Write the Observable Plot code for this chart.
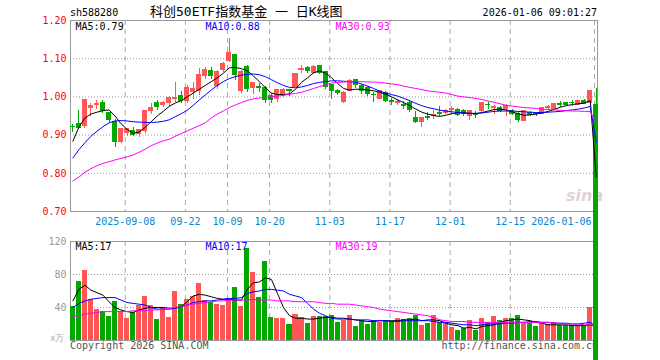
<!DOCTYPE html>
<html><head><meta charset="utf-8">
<script src="https://cdn.jsdelivr.net/npm/d3@7"></script>
<script src="https://cdn.jsdelivr.net/npm/@observablehq/plot@0.6"></script>
<style>
body{margin:0;background:#fff;}
#c{position:relative;width:660px;height:360px;overflow:hidden;background:#fff;font-family:"DejaVu Sans Mono",monospace;}
.t{position:absolute;white-space:pre;line-height:1;}
#c svg{position:absolute;left:0;overflow:visible;}
</style></head><body><div id="c"></div>
<script>
// ---- data ----
const code = "sh588280";
const title = "科创50ETF指数基金 一 日K线图";
const stamp = "2026-01-06 09:01:27";
const opens = [0.921,0.930,0.923,0.970,0.979,0.984,0.958,0.933,0.883,0.905,
0.911,0.903,0.910,0.962,0.983,0.980,0.983,0.994,1.003,0.990,
1.013,1.016,1.055,1.068,1.028,1.070,1.094,1.109,1.015,1.078,
1.023,1.025,1.022,1.003,0.994,1.007,1.017,1.026,1.071,1.076,
1.062,1.080,1.064,1.030,1.016,0.987,1.016,1.043,1.029,1.022,
1.005,0.994,1.009,0.990,0.984,0.979,0.985,0.946,0.933,0.947,
0.951,0.957,0.959,0.967,0.966,0.963,0.950,0.953,0.962,0.979,
0.971,0.972,0.968,0.963,0.956,0.937,0.959,0.955,0.956,0.971,
0.969,0.981,0.983,0.984,0.978,0.988,0.984,0.980];
const highs = [0.929,0.965,0.991,0.984,0.991,0.990,0.960,0.940,0.918,0.917,
0.920,0.915,0.965,0.984,0.991,0.989,1.002,1.039,1.013,1.030,
1.037,1.074,1.076,1.077,1.068,1.091,1.152,1.110,1.068,1.081,
1.038,1.036,1.027,1.008,1.020,1.022,1.020,1.062,1.081,1.080,
1.082,1.083,1.066,1.032,1.020,1.013,1.045,1.046,1.033,1.027,
1.012,1.018,1.015,0.995,0.992,0.988,0.990,0.961,0.946,0.958,
0.964,0.976,0.966,0.975,0.970,0.966,0.963,0.963,0.985,0.985,
0.978,0.975,0.981,0.966,0.958,0.963,0.962,0.959,0.972,0.977,
0.982,0.987,0.985,0.991,0.991,0.994,1.018,1.022];
const lows = [0.908,0.915,0.918,0.949,0.966,0.956,0.932,0.868,0.879,0.897,
0.896,0.893,0.905,0.953,0.965,0.972,0.976,0.985,0.983,0.983,
0.994,1.003,1.046,1.046,1.020,1.065,1.090,1.042,1.008,1.012,
1.005,1.012,0.983,0.983,0.985,0.998,1.002,1.024,1.060,1.062,
1.058,1.058,1.020,0.994,1.003,0.984,1.013,1.022,1.005,1.002,
0.985,0.992,0.985,0.977,0.977,0.968,0.959,0.931,0.920,0.938,
0.940,0.948,0.953,0.955,0.950,0.950,0.937,0.943,0.960,0.968,
0.955,0.958,0.950,0.952,0.933,0.935,0.949,0.950,0.955,0.966,
0.968,0.973,0.976,0.976,0.977,0.979,0.983,0.030];
const closes = [0.920,0.918,0.991,0.975,0.982,0.962,0.939,0.883,0.917,0.915,
0.900,0.913,0.962,0.971,0.974,0.984,0.996,0.998,0.990,1.022,
1.020,1.057,1.070,1.055,1.065,1.087,1.115,1.058,1.065,1.021,
1.036,1.023,0.993,0.993,1.018,1.019,1.015,1.060,1.074,1.068,
1.078,1.063,1.027,1.016,1.009,1.011,1.042,1.031,1.016,1.007,
1.004,1.016,0.988,0.986,0.986,0.977,0.966,0.934,0.944,0.946,
0.953,0.955,0.963,0.968,0.953,0.955,0.962,0.952,0.983,0.978,
0.973,0.963,0.976,0.956,0.940,0.962,0.952,0.954,0.970,0.973,
0.981,0.980,0.978,0.983,0.990,0.981,1.016,0.030];
const volumes = [41.6,71.6,85,50,38,35.6,29.6,47.6,35.6,27,
34,42,53.5,42.5,26,39.5,28.4,59.5,44,50,
53.5,69.5,48,46,44,42,51,64.4,41.6,111,
82.2,52,95.6,28.4,27,27,19.8,31.8,28.4,21,
29.6,29.6,29.6,30.2,22,24.4,30,17,24,19.6,
24,22,24,23,27,25.6,27,30,18,21,
30,22,21,16,12.4,15,24.4,12.4,27,22,
29,24.4,27,27,30,21,21,17,22,19.6,
22,18.4,18.4,18.4,18.4,18.4,40,3];
const ma5 = [0.884,0.921,0.945,0.955,0.960,0.964,0.966,0.950,0.930,0.915,
0.905,0.908,0.920,0.935,0.950,0.962,0.975,0.984,0.990,1.000,
1.010,1.020,1.030,1.040,1.050,1.062,1.076,1.077,1.074,1.068,
1.055,1.040,1.024,1.010,1.006,1.006,1.008,1.020,1.038,1.050,
1.063,1.068,1.062,1.050,1.035,1.022,1.018,1.020,1.020,1.018,
1.016,1.012,1.007,1.000,0.992,0.985,0.977,0.968,0.960,0.955,
0.951,0.949,0.952,0.956,0.959,0.958,0.957,0.956,0.959,0.963,
0.967,0.968,0.966,0.961,0.956,0.952,0.953,0.955,0.958,0.962,
0.967,0.973,0.977,0.980,0.982,0.984,0.990,0.790];
const ma10 = [0.840,0.862,0.880,0.897,0.910,0.922,0.932,0.937,0.938,0.937,
0.935,0.934,0.933,0.933,0.934,0.936,0.940,0.948,0.956,0.965,
0.978,0.992,1.005,1.018,1.030,1.040,1.048,1.053,1.057,1.059,
1.060,1.058,1.053,1.045,1.037,1.030,1.025,1.024,1.026,1.030,
1.035,1.038,1.040,1.042,1.042,1.041,1.040,1.038,1.034,1.028,
1.022,1.015,1.010,1.006,1.002,0.996,0.990,0.983,0.977,0.972,
0.969,0.965,0.963,0.961,0.959,0.958,0.957,0.957,0.958,0.960,
0.962,0.963,0.963,0.963,0.962,0.961,0.960,0.959,0.959,0.960,
0.961,0.962,0.964,0.966,0.968,0.971,0.975,0.880];
const ma30 = [0.780,0.790,0.803,0.812,0.820,0.826,0.830,0.835,0.839,0.843,
0.848,0.855,0.863,0.872,0.879,0.885,0.889,0.897,0.904,0.911,
0.918,0.925,0.932,0.945,0.955,0.963,0.972,0.979,0.985,0.991,
0.995,0.997,0.999,1.000,1.002,1.004,1.007,1.009,1.012,1.017,
1.022,1.027,1.032,1.036,1.038,1.039,1.040,1.040,1.040,1.039,
1.039,1.038,1.036,1.034,1.032,1.028,1.025,1.022,1.019,1.016,
1.014,1.012,1.010,1.006,1.002,1.000,0.998,0.996,0.993,0.989,
0.986,0.982,0.978,0.976,0.974,0.972,0.971,0.970,0.968,0.967,
0.966,0.965,0.964,0.963,0.963,0.962,0.962,0.930];
const vma5 = [48,62,67,61,58,55,47,40,37,35,
34,37,39,40,40,40,39,39,41,47,
54,56,55,53,51,50,50,49,49,62,
70,71,76,74,57,40,30,27,27,26,
26,27,28,28,27,27,26,25,24,23,
23,24,24,24,24,25,25,26,24,25,
25,24,21,19,18,15,16,14,17,18,
19,22,24,25,26,25,24,22,21,19,
19,19,19,18,18,18,19,17];
const vma10 = [40,45,48,50,51,52,52,52,49,46,
45,44,43,40,38,38,38,39,41,43,
46,47,48,48,49,50,51,51,52,57,
59,60,62,62,61,60,56,54,52,45,
38,33,30,27,26,26,26,25,25,25,
24,24,24,23,23,24,24,24,24,24,
23,22,22,21,20,19,19,18,19,20,
20,20,21,21,22,22,23,23,22,22,
21,21,21,20,20,21,22,17];
const vma30 = [29,30,32,33,34,35,35,35,35,35,
36,36,36,37,37,38,39,40,41,43,
44,45,46,47,48,48,49,49,49,49,
50,49,49,49,48,48,48,47,47,47,
47,46,45,45,44,44,44,43,42,41,
40,38,37,36,35,34,33,32,31,30,
28,25,24,23,23,23,22,22,22,22,
22,22,22,22,22,22,22,22,22,22,
21,21,20,20,20,19,19,19];
const tickIndex = [9,19,26,33,43,53,63,73,87];
const tickLabels = ["2025-09-08","09-22","10-09","10-20","11-03","11-17","12-01","12-15","2026-01-06"];
const priceTicks = [0.7,0.8,0.9,1.0,1.1,1.2];
const priceGrid = [0.8,0.9,1.0,1.1];
const volTicks = [40,80,120];
const volGrid = [40,80];

// ---- styles ----
const RED = "#ff5555", GREEN = "#00a800";
const lineColors = ["#000000","#0000ff","#ff00ff"];
const legendDx = [5,135,265];
const FONT = "DejaVu Sans Mono, monospace";
const xDomain = [-0.4, 87.2];
const gridOff = 0.3;

const rows = opens.map((o,i)=>({i, o, h:highs[i], l:lows[i], c:closes[i], v:volumes[i], up: closes[i] >= o}));
const ups = rows.filter(d=>d.up), downs = rows.filter(d=>!d.up);

function candleMarks(set, color){
  return [
    Plot.ruleX(set, {x:"i", y1:"l", y2:"h", stroke:color, strokeWidth:1, shapeRendering:"crispEdges"}),
    Plot.rect(set, {x1:d=>d.i-0.42, x2:d=>d.i+0.42, y1:"o", y2:"c", fill:color, insetTop:-0.5, insetBottom:-0.5, shapeRendering:"crispEdges"})
  ];
}
function volMarks(set, color){
  return Plot.rect(set, {x1:d=>d.i-0.42, x2:d=>d.i+0.42, y1:0, y2:"v", fill:color, shapeRendering:"crispEdges"});
}
function legendMarks(labels, dy){
  return labels.map((s,k)=>Plot.text([s], {text:d=>d, frameAnchor:"top-left", dx:legendDx[k], dy, fill:lineColors[k], textAnchor:"start", lineAnchor:"middle", fontSize:10}));
}
function maLines(series){
  return series.map((s,k)=>Plot.line(s, {x:(d,i)=>i, y:d=>d, stroke:lineColors[k], strokeWidth:1}));
}

const last = rows.length - 1;
const priceLegend = [`MA5:${ma5[last].toFixed(2)}`, `MA10:${ma10[last].toFixed(2)}`, `MA30:${ma30[last].toFixed(2)}`];
const volLegend = [`MA5:${vma5[last]}`, `MA10:${vma10[last]}`, `MA30:${vma30[last]}`];

const c = document.getElementById("c");
function addText(txt, css){
  const d = document.createElement("div"); d.className="t"; d.textContent = txt;
  Object.assign(d.style, css); c.appendChild(d);
}
addText(code, {left:"70px", top:"8px", fontSize:"10px", color:"#000"});
addText(title, {left:"150px", top:"5px", fontSize:"13px", color:"#000", fontFamily:"'DejaVu Sans Mono','Noto Sans CJK SC',monospace"});
addText(stamp, {right:"63px", top:"8px", fontSize:"10px", color:"#000"});

// volume panel (drawn first, below)
const vol = Plot.plot({
  width:660, height:135, marginLeft:70, marginRight:63, marginTop:16, marginBottom:20,
  style:{background:"transparent", overflow:"visible", fontFamily:FONT, fontSize:"10px"},
  x:{domain:xDomain, axis:null},
  y:{domain:[0,120], axis:null},
  marks:[
    Plot.ruleY(volGrid, {stroke:"#999", strokeDasharray:"1,2"}),
    Plot.ruleX(tickIndex, {x:d=>d-gridOff, stroke:"#aaa", strokeDasharray:"5,4"}),
    Plot.frame({stroke:"#999"}),
    Plot.axisY(volTicks, {anchor:"left", tickSize:0, tickPadding:4, fill:"#999", label:null, fontSize:10}),
    volMarks(ups, RED), volMarks(downs, GREEN),
    ...maLines([vma5, vma10, vma30]),
    ...legendMarks(volLegend, 5.5)
  ]
});
vol.style.top = "225px";
c.appendChild(vol);

addText("x万", {left:"50px", top:"334px", fontSize:"9px", color:"#aaa"});
addText("Copyright 2026 SINA.COM", {left:"70px", top:"341px", fontSize:"10px", color:"#555"});
addText("http://finance.sina.com.cn", {right:"62px", top:"341px", fontSize:"10px", color:"#555"});
addText("sina", {left:"566px", top:"188px", fontSize:"16px", fontStyle:"italic", fontWeight:"bold", color:"rgba(190,150,150,0.45)", fontFamily:"'DejaVu Sans',sans-serif"});

// price panel (on top, not clipped)
const price = Plot.plot({
  width:660, height:230, marginLeft:70, marginRight:63, marginTop:20, marginBottom:19,
  style:{background:"transparent", overflow:"visible", fontFamily:FONT, fontSize:"10px"},
  x:{domain:xDomain, axis:null},
  y:{domain:[0.7,1.2], axis:null},
  marks:[
    Plot.ruleY(priceGrid, {stroke:"#999", strokeDasharray:"1,2"}),
    Plot.ruleX(tickIndex, {x:d=>d-gridOff, stroke:"#aaa", strokeDasharray:"5,4"}),
    Plot.frame({stroke:"#999"}),
    Plot.axisY(priceTicks, {anchor:"left", tickSize:0, tickPadding:4, tickFormat:d=>d.toFixed(2), fill:"#f00", label:null, fontSize:10}),
    Plot.text(tickIndex.slice(0,-1), {x:d=>d-gridOff, text:(d,j)=>tickLabels[j], frameAnchor:"bottom", dy:10, lineAnchor:"middle", textAnchor:"middle", fill:"#0a86cc", fontSize:10}),
    Plot.text(tickIndex.slice(-1), {x:d=>d-gridOff, text:()=>tickLabels[tickLabels.length-1], frameAnchor:"bottom", dy:10, dx:-3, lineAnchor:"middle", textAnchor:"end", fill:"#0a86cc", fontSize:10}),
    ...candleMarks(ups, RED), ...candleMarks(downs, GREEN),
    ...maLines([ma5, ma10, ma30]),
    ...legendMarks(priceLegend, 6)
  ]
});
price.style.top = "0px";
c.appendChild(price);
</script></body></html>
